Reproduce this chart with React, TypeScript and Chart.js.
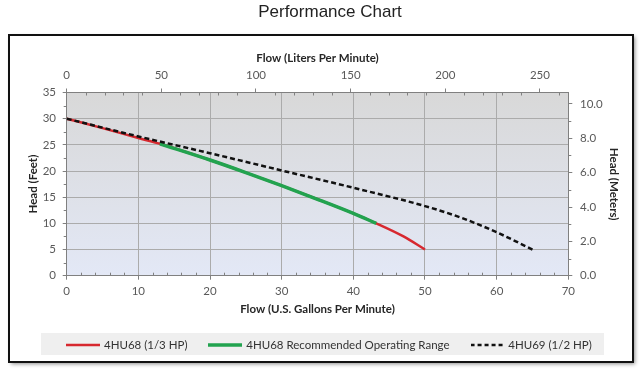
import { useEffect, useRef } from "react";
import { Chart, registerables } from "chart.js";

Chart.register(...registerables);

// ---------- text ----------
const chartTitle = "Performance Chart";
const flowGpmTitle = "Flow (U.S. Gallons Per Minute)";
const flowLpmTitle = "Flow (Liters Per Minute)";
const headFeetTitle = "Head (Feet)";
const headMetersTitle = "Head (Meters)";
const seriesNames = ["4HU68 (1/3 HP)", "4HU68 Recommended Operating Range", "4HU69 (1/2 HP)"];

// ---------- data (flow in US GPM, head in feet) ----------
const hu68Flow = [0, 5, 10, 13, 20, 25, 30, 35, 40, 43.2, 47, 50];
const hu68Head = [30, 28.2, 26.3, 25.2, 22.1, 19.7, 17.2, 14.6, 11.9, 10.0, 7.5, 5.0];
const hu68RangeFlow = [13, 20, 25, 30, 35, 40, 43.2];
const hu68RangeHead = [25.2, 22.1, 19.7, 17.2, 14.6, 11.9, 10.0];
const hu69Flow = [0, 10, 20, 30, 40, 50, 55, 60, 65];
const hu69Head = [30, 26.6, 23.4, 20.1, 16.8, 13.3, 11.1, 8.3, 5.0];

// ---------- axes ----------
const gpmRange = [0, 70];
const gpmStep = 10;
const gpmMinorStep = 2;
const feetRange = [0, 35];
const feetStep = 5;
const feetMinorStep = 2.5;
const lpmStep = 50;
const lpmMinorStep = 10;
const meterStep = 2;
const meterMinorStep = 1;
const LPM_PER_GPM = 3.78541;
const M_PER_FT = 0.3048;

const FONT = "Lato, 'Open Sans', sans-serif";
const tickColor = "#595959";
const titleColor = "#262626";
const gridColor = "#ababab";
const axisColor = "#808080";

const tickFont = { family: FONT, size: 11.5 };
const axisTitleFont = { family: FONT, size: 11.5, weight: "bold" as const };

const seriesColors = ["#d7282f", "#22a34f", "#111111"];
const seriesWidths = [2.5, 3.5, 2.5];
const seriesDashes: number[][] = [[], [], [5, 3]];

const toPts = (xs: number[], ys: number[]) => xs.map((x, i) => ({ x, y: ys[i] }));

function makeSample(color: string, width: number, dash: number[]) {
  const c = document.createElement("canvas");
  c.width = 34;
  c.height = 6;
  const g = c.getContext("2d")!;
  g.strokeStyle = color;
  g.lineWidth = width;
  g.setLineDash(dash.length ? [4, 3] : []);
  g.beginPath();
  g.moveTo(0, 3);
  g.lineTo(34, 3);
  g.stroke();
  return c;
}

const backgroundPlugin = {
  id: "bgFrame",
  beforeDraw(chart: any) {
    const { ctx, width, height, chartArea } = chart;
    ctx.save();
    ctx.fillStyle = "#ffffff";
    ctx.fillRect(0, 0, width, height);
    ctx.shadowColor = "rgba(0,0,0,0.45)";
    ctx.shadowBlur = 4;
    ctx.shadowOffsetX = 2;
    ctx.shadowOffsetY = 2;
    ctx.fillStyle = "#ffffff";
    ctx.fillRect(9, 35, 624, 327);
    ctx.shadowColor = "transparent";
    ctx.lineWidth = 2;
    ctx.strokeStyle = "#111111";
    ctx.strokeRect(9, 35, 624, 327);
    ctx.fillStyle = "#efefef";
    ctx.fillRect(41, 333, 563, 22);
    const { left, top, right, bottom } = chartArea;
    const g = ctx.createLinearGradient(0, top, 0, bottom);
    g.addColorStop(0, "#d8d8d8");
    g.addColorStop(1, "#e3e8f6");
    ctx.fillStyle = g;
    ctx.fillRect(left, top, right - left, bottom - top);
    ctx.restore();
  },
};

const minorTickPlugin = {
  id: "minorTicks",
  afterDraw(chart: any) {
    const { ctx, chartArea, scales } = chart;
    const { left, top, right, bottom } = chartArea;
    ctx.save();
    ctx.strokeStyle = axisColor;
    ctx.lineWidth = 1;
    ctx.beginPath();
    const len = 3;
    for (let v = gpmRange[0]; v <= gpmRange[1] + 1e-9; v += gpmMinorStep) {
      if (Math.abs(v % gpmStep) < 1e-9) continue;
      const px = Math.round(scales.x.getPixelForValue(v)) + 0.5;
      ctx.moveTo(px, bottom);
      ctx.lineTo(px, bottom - len);
    }
    for (let v = 0; v <= scales.x2.max + 1e-9; v += lpmMinorStep) {
      if (Math.abs(v % lpmStep) < 1e-9) continue;
      const px = Math.round(scales.x2.getPixelForValue(v)) + 0.5;
      ctx.moveTo(px, top);
      ctx.lineTo(px, top + len);
    }
    for (let v = feetRange[0]; v <= feetRange[1] + 1e-9; v += feetMinorStep) {
      if (Math.abs(v % feetStep) < 1e-9) continue;
      const py = Math.round(scales.y.getPixelForValue(v)) + 0.5;
      ctx.moveTo(left, py);
      ctx.lineTo(left - len, py);
    }
    for (let v = 0; v <= scales.y2.max + 1e-9; v += meterMinorStep) {
      if (Math.abs(v % meterStep) < 1e-9) continue;
      const py = Math.round(scales.y2.getPixelForValue(v)) + 0.5;
      ctx.moveTo(right, py);
      ctx.lineTo(right + len, py);
    }
    ctx.stroke();
    ctx.restore();
  },
};

export default function App() {
  const canvasRef = useRef<HTMLCanvasElement | null>(null);

  useEffect(() => {
    if (!canvasRef.current) return;
    const samples = seriesColors.map((c, i) => makeSample(c, seriesWidths[i], seriesDashes[i]));
    const series = [
      { flow: hu68Flow, head: hu68Head, order: 3 },
      { flow: hu68RangeFlow, head: hu68RangeHead, order: 2 },
      { flow: hu69Flow, head: hu69Head, order: 1 },
    ];
    const chart = new Chart(canvasRef.current, {
      type: "line",
      data: {
        datasets: series.map((s, i) => ({
          label: seriesNames[i],
          data: toPts(s.flow, s.head),
          borderColor: seriesColors[i],
          backgroundColor: seriesColors[i],
          borderWidth: seriesWidths[i],
          borderDash: seriesDashes[i],
          pointRadius: 0,
          pointStyle: samples[i],
          cubicInterpolationMode: "monotone",
          order: s.order,
          xAxisID: "x",
          yAxisID: "y",
        })),
      },
      options: {
        responsive: false,
        animation: false,
        devicePixelRatio: 1,
        layout: { padding: { left: 20, right: 0, top: 0, bottom: 12.25 } },
        plugins: {
          title: {
            display: true,
            text: chartTitle,
            color: "#222222",
            font: { family: "'Liberation Sans', Arial, sans-serif", size: 17, weight: "normal" },
            padding: { top: 1.8, bottom: 13 },
          },
          legend: {
            display: true,
            position: "bottom",
            labels: {
              usePointStyle: true,
              pointStyleWidth: 30,
              padding: 23,
              color: "#333333",
              font: { family: FONT, size: 11.5 },
              sort: (a: any, b: any) => a.datasetIndex - b.datasetIndex,
            },
          },
          tooltip: { enabled: false },
        },
        scales: {
          x: {
            type: "linear",
            position: "bottom",
            min: gpmRange[0],
            max: gpmRange[1],
            ticks: { stepSize: gpmStep, color: tickColor, font: tickFont, padding: 4.4 },
            grid: { color: gridColor, tickLength: 4, tickColor: axisColor },
            border: { color: axisColor, width: 1 },
            title: {
              display: true,
              text: flowGpmTitle,
              color: titleColor,
              font: axisTitleFont,
              padding: { top: 0, bottom: 0 },
            },
            afterFit: (s: any) => {
              s.height = 40.55;
            },
          },
          x2: {
            type: "linear",
            position: "top",
            min: gpmRange[0] * LPM_PER_GPM,
            max: gpmRange[1] * LPM_PER_GPM,
            ticks: { stepSize: lpmStep, includeBounds: false, color: tickColor, font: tickFont, padding: 6.6 },
            grid: { drawOnChartArea: false, tickLength: 4, tickColor: axisColor },
            border: { color: axisColor, width: 1 },
            title: {
              display: true,
              text: flowLpmTitle,
              color: titleColor,
              font: axisTitleFont,
              padding: { top: 16.2, bottom: 0 },
            },
            afterFit: (s: any) => {
              s.height = 57.3;
            },
          },
          y: {
            type: "linear",
            position: "left",
            min: feetRange[0],
            max: feetRange[1],
            ticks: { stepSize: feetStep, color: tickColor, font: tickFont, padding: 6.7 },
            grid: { color: gridColor, tickLength: 4, tickColor: axisColor },
            border: { color: axisColor, width: 1 },
            title: {
              display: true,
              text: headFeetTitle,
              color: titleColor,
              font: axisTitleFont,
              padding: { top: 6.1, bottom: 0 },
            },
            afterFit: (s: any) => {
              s.width = 46.7;
            },
          },
          y2: {
            type: "linear",
            position: "right",
            min: feetRange[0] * M_PER_FT,
            max: feetRange[1] * M_PER_FT,
            ticks: {
              stepSize: meterStep,
              includeBounds: false,
              color: tickColor,
              font: tickFont,
              padding: 7.7,
              callback: (v: any) => Number(v).toFixed(1),
            },
            grid: { drawOnChartArea: false, tickLength: 4, tickColor: axisColor },
            border: { color: axisColor, width: 1 },
            title: {
              display: true,
              text: headMetersTitle,
              color: titleColor,
              font: axisTitleFont,
              padding: { top: 19.1, bottom: 0 },
            },
            afterFit: (s: any) => {
              s.width = 71.7;
            },
          },
        },
      },
      plugins: [backgroundPlugin, minorTickPlugin],
    } as any);
    return () => chart.destroy();
  }, []);

  return (
    <div style={{ position: "absolute", left: 0, top: 0, width: 640, height: 373 }}>
      <canvas ref={canvasRef} width={640} height={373} style={{ width: 640, height: 373, display: "block" }} />
    </div>
  );
}
